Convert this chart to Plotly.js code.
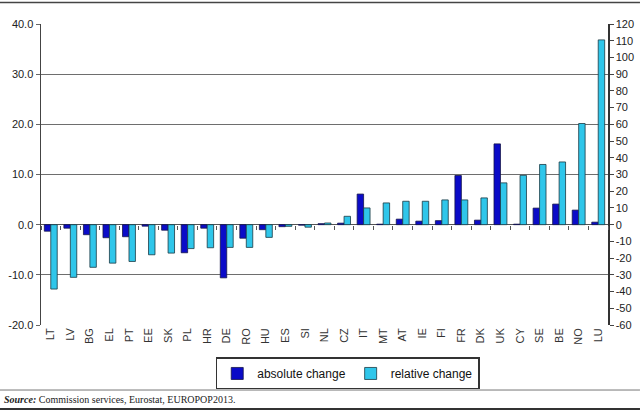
<!DOCTYPE html>
<html>
<head>
<meta charset="utf-8">
<script src="https://cdn.plot.ly/plotly-3.0.1.min.js"></script>
<style>
html,body{margin:0;padding:0;background:#fff;}
#chart{width:640px;height:412px;}
</style>
</head>
<body>
<div id="chart"></div>
<script>
var categories = ['LT','LV','BG','EL','PT','EE','SK','PL','HR','DE','RO','HU','ES','SI','NL','CZ','IT','MT','AT','IE','FI','FR','DK','UK','CY','SE','BE','NO','LU'];
var absoluteChange = [-1.3,-0.7,-2.0,-2.6,-2.4,-0.3,-1.1,-5.6,-0.7,-10.6,-2.7,-1.0,-0.4,-0.1,0.2,0.3,6.1,0.1,1.1,0.7,0.8,9.8,0.9,16.1,0.1,3.3,4.1,2.9,0.5];
var relativeChange = [-38.5,-31.5,-25.5,-23.0,-22.0,-18.0,-17.0,-14.3,-13.8,-13.6,-13.6,-7.6,-1.0,-1.5,1.0,5.0,10.0,13.0,14.0,14.0,14.8,14.8,16.0,25.0,29.5,36.0,37.5,60.5,110.5];
var leftTicks = [-20,-10,0,10,20,30,40];
var leftTickText = ['-20.0','-10.0','0.0','10.0','20.0','30.0','40.0'];
var rightTicks = [-60,-50,-40,-30,-20,-10,0,10,20,30,40,50,60,70,80,90,100,110,120];
var rightTickText = ['-60','-50','-40','-30','-20','-10','0','10','20','30','40','50','60','70','80','90','100','110','120'];

var font = 'Liberation Sans, Arial, sans-serif';
var traces = [
  {type:'bar', name:'absolute change', x:categories, y:absoluteChange, xaxis:'x', yaxis:'y',
   offsetgroup:'a', marker:{color:'#0b0bc8', line:{color:'#15154a', width:0.8}}, hoverinfo:'x+y'},
  {type:'bar', name:'relative change', x:categories, y:relativeChange, xaxis:'x', yaxis:'y2',
   offsetgroup:'b', marker:{color:'#2fc6ea', line:{color:'#1a3a44', width:0.8}}, hoverinfo:'x+y'},
  {type:'scatter', mode:'markers', x:categories, y:categories.map(function(){return null;}),
   xaxis:'x2', yaxis:'y', showlegend:false, hoverinfo:'skip'}
];

var layout = {
  width:640, height:412,
  margin:{l:41, r:32, t:24, b:87},
  paper_bgcolor:'#fff', plot_bgcolor:'#fff',
  font:{family:font, size:11, color:'#222'},
  barmode:'group', bargap:0.34, bargroupgap:0,
  showlegend:true,
  legend:{orientation:'h', x:0.541, xanchor:'center', y:-0.161, yanchor:'middle',
          bordercolor:'#333', borderwidth:1.5, bgcolor:'#fff',
          font:{family:font, size:12, color:'#111'}},
  xaxis:{type:'category', categoryorder:'array', categoryarray:categories, range:[-0.5,28.5],
         tickangle:-90, ticks:'', showline:false, showgrid:false, zeroline:false,
         tickfont:{family:font, size:11, color:'#333'}, fixedrange:true},
  xaxis2:{type:'category', categoryorder:'array', categoryarray:categories, range:[-0.5,28.5],
          overlaying:'x', anchor:'free', position:1/3, tickson:'boundaries',
          ticks:'outside', ticklen:4, tickcolor:'#555', tickwidth:1, showticklabels:false,
          showline:false, showgrid:false, zeroline:false},
  yaxis:{range:[-20,40], tickmode:'array', tickvals:leftTicks, ticktext:leftTickText, showgrid:true, gridcolor:'#6e6e6e', gridwidth:1.3,
         zeroline:true, zerolinecolor:'#555', zerolinewidth:1.3,
         showline:true, linecolor:'#444', linewidth:1.5, ticks:'outside', ticklen:4, tickcolor:'#666',
         tickfont:{family:font, size:11, color:'#222'}},
  yaxis2:{range:[-60,120], tickmode:'array', tickvals:rightTicks, ticktext:rightTickText, overlaying:'y', side:'right', showgrid:false, zeroline:false,
          showline:true, linecolor:'#333', linewidth:1.5, ticks:'outside', ticklen:4, tickcolor:'#444',
          tickfont:{family:font, size:11, color:'#222'}},
  shapes:[
    {type:'line', xref:'paper', yref:'paper', x0:-0.0723, x1:1.0564, y0:1.0714, y1:1.0714, line:{color:'#444', width:1.5}},
    {type:'line', xref:'paper', yref:'paper', x0:-0.0723, x1:1.0564, y0:-0.216, y1:-0.216, line:{color:'#777', width:1}},
    {type:'line', xref:'paper', yref:'paper', x0:-0.0723, x1:1.0564, y0:-0.279, y1:-0.279, line:{color:'#333', width:2}}
  ],
  annotations:[
    {xref:'paper', yref:'paper', x:-0.0688, y:-0.249, xanchor:'left', yanchor:'middle', showarrow:false,
     text:'<b><i>Source:</i></b> Commission services, Eurostat, EUROPOP2013.',
     font:{family:'Liberation Serif, Times New Roman, serif', size:10, color:'#222'}}
  ]
};
Plotly.newPlot('chart', traces, layout, {displayModeBar:false, staticPlot:true});
</script>
</body>
</html>
